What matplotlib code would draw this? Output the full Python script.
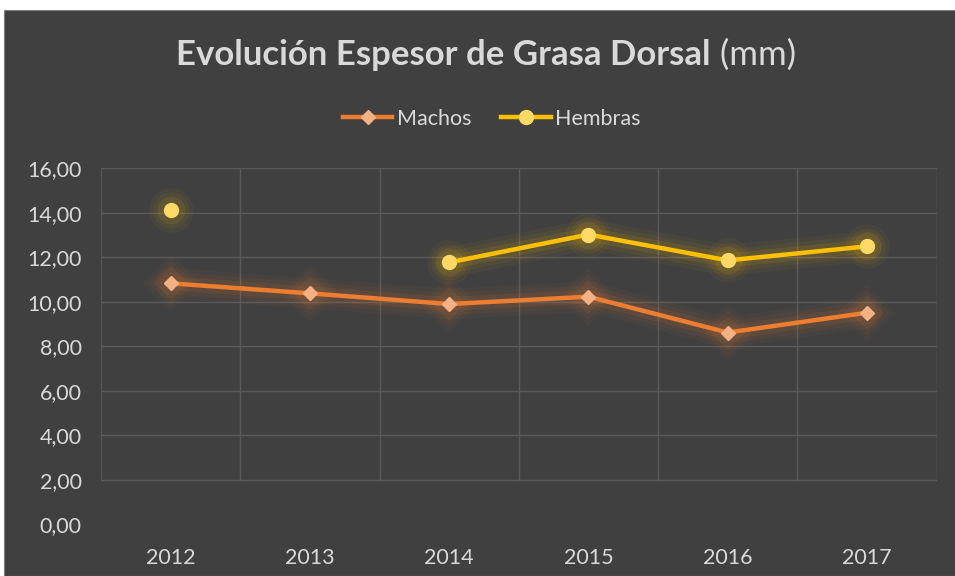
import numpy as np
import matplotlib
matplotlib.use("Agg")
import matplotlib.pyplot as plt
from matplotlib.patches import Rectangle

# Datos
anios = ["2012", "2013", "2014", "2015", "2016", "2017"]
machos = [10.83, 10.38, 9.90, 10.23, 8.62, 9.51]
hembras = [14.12, np.nan, 11.77, 13.02, 11.86, 12.49]
yticks = [0, 2, 4, 6, 8, 10, 12, 14, 16]

fondo = "#404040"
texto = "#D9D9D9"
rejilla = "#5A5A5A"

plt.rcParams["font.family"] = ["Lato", "DejaVu Sans"]

fig = plt.figure(figsize=(9.55, 5.76), dpi=100)
fig.patch.set_facecolor("white")
marco = Rectangle((4 / 955, 0), 1, 566 / 576, transform=fig.transFigure,
                  facecolor=fondo, edgecolor="#7F7F7F", linewidth=0.8, zorder=-10)
fig.patches.append(marco)

ax = fig.add_axes([0.1058, 0.0894, 0.875, 0.6186])
ax.set_facecolor(fondo)
x = np.arange(len(anios))

# Rejilla
for v in yticks[1:]:
    ax.axhline(v, color=rejilla, linewidth=1, zorder=1)
for i in range(len(anios) + 1):
    ax.axvline(i - 0.5, ymin=2 / 16, ymax=1, color=rejilla, linewidth=1, zorder=1)


def serie(valores, color, relleno, marcador, ms, etiqueta):
    # brillo
    for lw, a in [(22, 0.04), (16, 0.06), (10, 0.09)]:
        ax.plot(x, valores, color=color, linewidth=lw, alpha=a, solid_capstyle="round",
                marker=marcador, markersize=ms + lw, markeredgewidth=0, zorder=2)
    ax.plot(x, valores, color=color, linewidth=3.2, marker=marcador, markersize=ms,
            markerfacecolor=relleno, markeredgecolor=relleno, label=etiqueta, zorder=3)


serie(machos, "#ED7D31", "#F4B183", "D", 7.5, "Machos")
serie(hembras, "#FFC000", "#FFD966", "o", 10, "Hembras")

ax.set_xlim(-0.5, len(anios) - 0.5)
ax.set_ylim(0, 16)
ax.set_xticks(x)
ax.set_xticklabels(anios)
ax.set_yticks(yticks)
ax.set_yticklabels([f"{v:.2f}".replace(".", ",") for v in yticks])
ax.tick_params(colors=texto, labelsize=15.5, length=0)
ax.tick_params(axis="y", pad=14)
ax.tick_params(axis="x", pad=17)
for s in ax.spines.values():
    s.set_visible(False)

# Titulo
fig.text(0.744, 0.905, "Evolución Espesor de Grasa Dorsal", fontsize=25, fontweight="bold",
         color=texto, ha="right", va="center")
fig.text(0.744, 0.905, " (mm)", fontsize=25, color=texto, ha="left", va="center")

leg = fig.legend(loc="center", bbox_to_anchor=(0.515, 0.794), ncol=2, frameon=False,
                 fontsize=15.5, labelcolor=texto, handlelength=2.3, columnspacing=1.4,
                 handletextpad=0.2)

fig.savefig("out.png", dpi=100, facecolor=fig.get_facecolor())
